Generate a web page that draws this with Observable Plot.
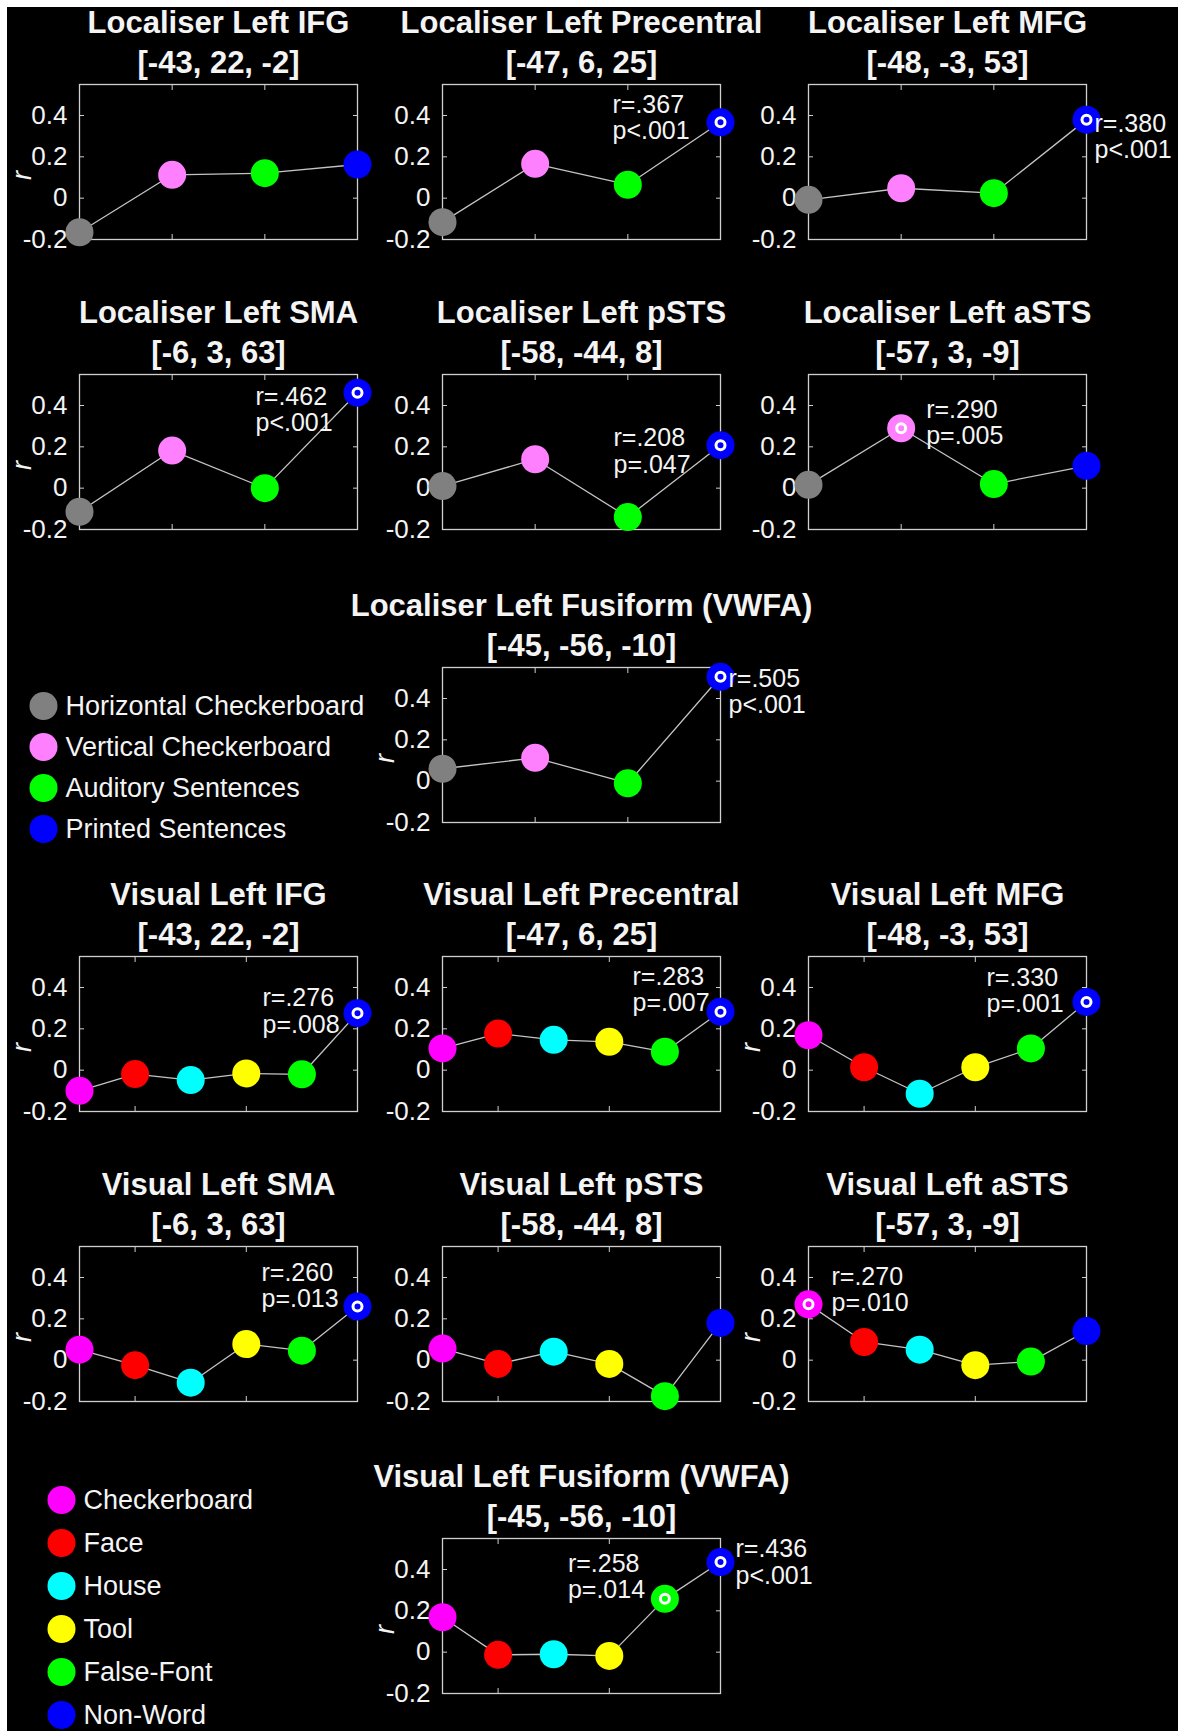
<!DOCTYPE html>
<html>
<head>
<meta charset="utf-8">
<script src="https://cdn.jsdelivr.net/npm/d3@7"></script>
<script src="https://cdn.jsdelivr.net/npm/@observablehq/plot@0.6"></script>
<style>
  html, body { margin: 0; padding: 0; background: #fff; }
  #figure { position: relative; width: 1178px; height: 1731px; overflow: hidden; background: #fff; }
  #backdrop { position: absolute; left: 7px; top: 7px; right: 0; bottom: 0; background: #000; }
  .cell { position: absolute; }
  .cell svg { max-width: none; overflow: visible; display: block; }
</style>
</head>
<body>
<div id="figure"><div id="backdrop"></div></div>
<script>
// ---------------- data ----------------
const localiserConditions = ["Horizontal Checkerboard", "Vertical Checkerboard", "Auditory Sentences", "Printed Sentences"];
const localiserColors = ["#808080", "#ff80ff", "#00ff00", "#0000ff"];
const visualConditions = ["Checkerboard", "Face", "House", "Tool", "False-Font", "Non-Word"];
const visualColors = ["#ff00ff", "#ff0000", "#00ffff", "#ffff00", "#00ff00", "#0000ff"];

const regions = ["Left IFG", "Left Precentral", "Left MFG", "Left SMA", "Left pSTS", "Left aSTS", "Left Fusiform (VWFA)"];
const coordinates = ["[-43, 22, -2]", "[-47, 6, 25]", "[-48, -3, 53]", "[-6, 3, 63]", "[-58, -44, 8]", "[-57, 3, -9]", "[-45, -56, -10]"];

// correlation r per region (rows) and condition (columns)
const localiserR = [
  [-0.165, 0.113, 0.121, 0.163],
  [-0.116, 0.166, 0.065, 0.367],
  [-0.008, 0.048, 0.024, 0.380],
  [-0.114, 0.182, 0.000, 0.462],
  [0.010, 0.140, -0.140, 0.208],
  [0.016, 0.290, 0.020, 0.108],
  [0.060, 0.113, -0.010, 0.505]
];
const visualR = [
  [-0.100, -0.019, -0.048, -0.016, -0.020, 0.276],
  [0.105, 0.177, 0.147, 0.137, 0.089, 0.283],
  [0.169, 0.014, -0.114, 0.014, 0.105, 0.330],
  [0.051, -0.024, -0.109, 0.078, 0.046, 0.260],
  [0.056, -0.018, 0.041, -0.018, -0.174, 0.180],
  [0.270, 0.088, 0.051, -0.024, -0.007, 0.141],
  [0.169, -0.013, -0.010, -0.018, 0.258, 0.436]
];

// significant correlations: [region, condition, p]
const localiserSignificant = [[1, 3, "<.001"], [2, 3, "<.001"], [3, 3, "<.001"], [4, 3, "=.047"], [5, 1, "=.005"], [6, 3, "<.001"]];
const visualSignificant = [[0, 5, "=.008"], [1, 5, "=.007"], [2, 5, "=.001"], [3, 5, "=.013"], [5, 0, "=.010"], [6, 4, "=.014"], [6, 5, "<.001"]];

const yTickValues = [-0.2, 0, 0.2, 0.4];
const localiserXTicks = [1, 2, 3, 4];
const visualXTicks = [2, 4, 6];

// ---------------- layout & style ----------------
const FONT = '"Liberation Sans", Arial, Helvetica, sans-serif';
const INK = "#f4f4f4";
const FRAME = "#cfcfcf";
const LINE = "#c4c4c4";
const FW = 278, FH = 155;
const ML = 80, MR = 100, MT = 90, MB = 40;
const colX = [79, 442, 808];
const rowTop = [84, 374, 667, 956, 1246, 1538];
const slots = [[0, 0], [1, 0], [2, 0], [0, 1], [1, 1], [2, 1], [1, 2]];

// where each r/p note sits relative to its marker: [dx, dy]
const localiserNoteOffset = {"1-3": [-108, -5], "2-3": [8, 17], "3-3": [-102, 17], "4-3": [-107, 6], "5-1": [25, -6], "6-3": [8, 15]};
const visualNoteOffset = {"0-5": [-95, -2], "1-5": [-88, -22], "2-5": [-100, -11], "3-5": [-96, -21], "5-0": [23, -15], "6-4": [-97, -22], "6-5": [15, 0]};
// panels that carry the y-axis label
const localiserYLabel = new Set([0, 3, 6]);
const visualYLabel = new Set([0, 2, 3, 5, 6]);

const fmtTick = d => d === 0 ? "0" : d.toFixed(1);
const fmtR = v => "r=" + v.toFixed(3).replace(/^(-?)0\./, "$1.");

const figure = document.getElementById("figure");

function place(node, left, top) {
  const div = document.createElement("div");
  div.className = "cell";
  div.style.left = left + "px";
  div.style.top = top + "px";
  div.appendChild(node);
  figure.appendChild(div);
}

function drawPanel(title, coord, values, colors, xTicks, notes, showYLabel, left, top) {
  const pts = values.map((v, i) => ({x: i + 1, v, color: colors[i]}));
  const noteMarks = notes.map(n => {
    const d = {x: n.cond + 1, v: values[n.cond], p: n.p};
    return Plot.text([d], {
      x: "x", y: "v", text: e => `${fmtR(e.v)}\np${e.p}`,
      dx: n.dx, dy: n.dy, textAnchor: "start", lineAnchor: "middle",
      lineHeight: 1.05, fontSize: 25, fill: INK
    });
  });
  const chart = Plot.plot({
    width: ML + FW + MR, height: MT + FH + MB,
    marginLeft: ML, marginRight: MR, marginTop: MT, marginBottom: MB,
    style: {background: "transparent", color: INK, fontFamily: FONT, overflow: "visible"},
    x: {domain: [1, values.length]},
    y: {domain: [-0.2, 0.55]},
    color: {type: "identity"},
    marks: [
      Plot.frame({stroke: FRAME, strokeWidth: 1.3}),
      Plot.axisX({anchor: "bottom", ticks: xTicks, tickSize: -5, tickFormat: () => "", stroke: FRAME, label: null}),
      Plot.axisX({anchor: "top", ticks: xTicks, tickSize: -5, tickFormat: () => "", stroke: FRAME, label: null}),
      Plot.axisY({anchor: "right", ticks: yTickValues, tickSize: -5, tickFormat: () => "", stroke: FRAME, label: null}),
      Plot.axisY({anchor: "left", ticks: yTickValues, tickSize: -5, tickFormat: () => "", stroke: FRAME, label: null}),
      Plot.axisY({anchor: "left", ticks: yTickValues, tickSize: 0, tickPadding: 12, tickFormat: fmtTick, fontSize: 26, label: null}),
      showYLabel ? Plot.text(["r"], {frameAnchor: "left", text: d => d, dx: -57, dy: 18, rotate: -90, fontStyle: "italic", fontSize: 27, fill: INK}) : null,
      Plot.text([title], {frameAnchor: "top", text: d => d, dy: -61, fontSize: 31, fontWeight: "bold", fill: INK, lineAnchor: "middle"}),
      Plot.text([coord], {frameAnchor: "top", text: d => d, dy: -21, fontSize: 31, fontWeight: "bold", fill: INK, lineAnchor: "middle"}),
      Plot.line(pts, {x: "x", y: "v", stroke: LINE, strokeWidth: 1.3}),
      Plot.dot(pts, {x: "x", y: "v", r: 14, fill: "color", stroke: null}),
      Plot.dot(notes.map(n => ({x: n.cond + 1, v: values[n.cond]})), {x: "x", y: "v", r: 4.5, fill: "none", stroke: "white", strokeWidth: 3}),
      ...noteMarks
    ]
  });
  place(chart, left - ML, top - MT);
}

function drawBlock(prefix, rValues, colors, xTicks, significant, noteOffset, yLabelSet, firstRow) {
  regions.forEach((region, k) => {
    const [c, r] = slots[k];
    const notes = significant.filter(s => s[0] === k).map(s => {
      const [dx, dy] = noteOffset[`${s[0]}-${s[1]}`];
      return {cond: s[1], p: s[2], dx, dy};
    });
    drawPanel(`${prefix} ${region}`, coordinates[k], rValues[k], colors, xTicks, notes,
      yLabelSet.has(k), colX[c], rowTop[firstRow + r]);
  });
}

function drawLegend(labels, colors, cx, firstCenter, step) {
  const chart = Plot.plot({
    width: 420, height: labels.length * step,
    marginLeft: 20, marginRight: 0, marginTop: 0, marginBottom: 0,
    style: {background: "transparent", color: INK, fontFamily: FONT, overflow: "visible"},
    x: {domain: [0, 1], axis: null},
    y: {type: "band", domain: labels, padding: 0, axis: null},
    color: {type: "identity"},
    marks: [
      Plot.dot(labels, {y: d => d, frameAnchor: "left", r: 14, fill: (d, i) => colors[i], stroke: null}),
      Plot.text(labels, {y: d => d, text: d => d, frameAnchor: "left", dx: 22, textAnchor: "start", fontSize: 27, fill: INK})
    ]
  });
  place(chart, cx - 20, firstCenter - step / 2);
}

drawBlock("Localiser", localiserR, localiserColors, localiserXTicks, localiserSignificant, localiserNoteOffset, localiserYLabel, 0);
drawBlock("Visual", visualR, visualColors, visualXTicks, visualSignificant, visualNoteOffset, visualYLabel, 3);
drawLegend(localiserConditions, localiserColors, 43, 705, 41);
drawLegend(visualConditions, visualColors, 61, 1499, 43);
</script>
</body>
</html>
